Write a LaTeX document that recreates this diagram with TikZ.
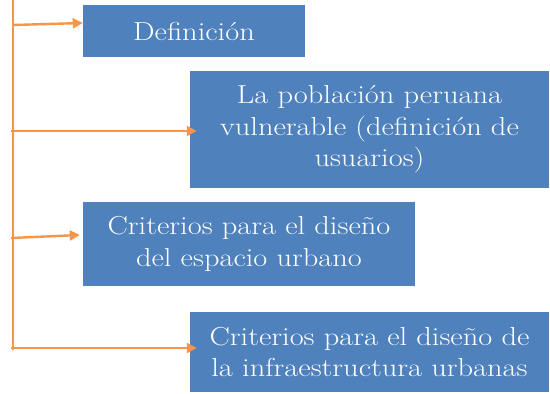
\documentclass[tikz,border=0pt]{standalone}
\usepackage{fontspec}
\newfontfamily\boxfont{Latin Modern Roman}[FakeStretch=1.17]
\usetikzlibrary{arrows.meta}
\definecolor{boxblue}{HTML}{4F81BD}
\definecolor{arrorange}{HTML}{F79646}
\begin{document}
\begin{tikzpicture}[x=1pt,y=-1pt,
  bluebox/.style={fill=boxblue,draw=none,text=white,align=center,inner sep=0pt,
    font=\boxfont\fontsize{26}{31.5}\selectfont},
  conn/.style={draw=arrorange,line width=2.4pt,-{Triangle[length=10pt,width=10pt]}},
  spine/.style={draw=arrorange,line width=2.2pt}]
\useasboundingbox (0,0) rectangle (550,394);
\node[bluebox,minimum width=222pt,minimum height=52pt] (b1) at (194,31) {Definición};
\node[bluebox,minimum width=359pt,minimum height=117pt] (b2) at (369.5,129.5) {La población peruana\\vulnerable (definición de\\usuarios)};
\node[bluebox,minimum width=332pt,minimum height=84pt] (b3) at (249,244) {Criterios para el diseño\\del espacio urbano};
\node[bluebox,minimum width=359pt,minimum height=80pt] (b4) at (369.5,352) {Criterios para el diseño de\\la infraestructura urbanas};
\coordinate (top) at (13,0);
\coordinate (bot) at (13,350);
\coordinate (s1) at (13,25);
\coordinate (s2) at (11,131);
\coordinate (s3) at (11,238);
\coordinate (s4) at (11,348);
\draw[spine] (top) -- (bot);
\draw[conn] (s1) -- ([yshift=8pt]b1.west);
\draw[conn] (s2) -- ([xshift=7pt,yshift=-1.5pt]b2.west);
\draw[conn] (s3) -- ([xshift=-3pt,yshift=9pt]b3.west);
\draw[conn] (s4) -- ([xshift=7pt,yshift=4pt]b4.west);
\end{tikzpicture}
\end{document}
